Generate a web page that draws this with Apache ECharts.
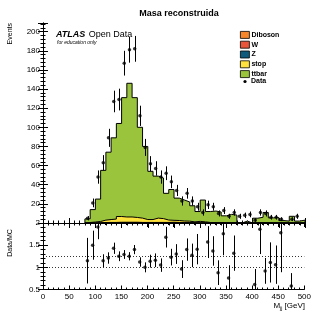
<!DOCTYPE html>
<html>
<head>
<meta charset="utf-8">
<script src="https://cdn.jsdelivr.net/npm/echarts@6/dist/echarts.min.js"></script>
<style>
  html, body { margin: 0; padding: 0; background: #fff; }
  #chart { width: 314px; height: 316px; }
</style>
</head>
<body>
<div id="chart"></div>
<script>
  // bin low edges, 10 GeV wide
  const binLo = [80, 90, 100, 110, 120, 130, 140, 150, 160, 170, 180, 190, 200, 210, 220, 230, 240, 250, 260, 270,
    280, 290, 300, 310, 320, 330, 340, 350, 360, 370, 380, 390, 400, 410, 420, 430, 440, 450, 460, 470, 480, 490]
  const binW = 10

  // MC components (events per bin)
  const diboson = [0, 0, 0.1, 0.1, 0.1, 0.1, 0.1, 0.1, 0.1, 0.1, 0.1, 0.1, 0.1, 0.1, 0.1, 0.1, 0.1, 0.1, 0.1, 0.1,
    0, 0, 0, 0, 0, 0, 0, 0, 0, 0, 0, 0, 0, 0, 0, 0, 0, 0, 0, 0, 0, 0]
  const wjets = [0, 0, 0, 0.2, 0.2, 0.2, 0.3, 0.3, 0.3, 0.3, 0.2, 0.2, 0.2, 0.2, 0.2, 0.2, 0.2, 0, 0, 0,
    0, 0, 0, 0, 0, 0, 0, 0, 0, 0, 0, 0, 0, 0, 0, 0, 0, 0, 0, 0, 0, 0]
  const zjets = [0, 0, 0, 0.2, 0.3, 0.3, 0.4, 0.4, 0.4, 0.4, 0.3, 0.3, 0.3, 0.3, 0.3, 0.3, 0.5, 0.5, 0.5, 0.3,
    0.2, 0.2, 0.2, 0, 0, 0, 0, 0, 0, 0, 0, 0, 0, 0, 0, 0, 0, 0, 0, 0, 0, 0]
  const stop = [0.5, 1, 1.5, 2.5, 3, 3.5, 6, 5.5, 5.5, 5, 4.5, 3, 3, 4.5, 4, 2.5, 2, 2, 1.5, 1.5,
    1, 1.5, 1, 0.5, 0.5, 0.5, 0.3, 0.3, 0.3, 0, 0, 0, 0.3, 0.3, 0.3, 0.2, 0.2, 0, 0, 0, 0, 0]
  const ttbar = [3.8, 13, 23.4, 52, 70.4, 84.9, 97.2, 124.7, 139.7, 125.2, 94.9, 76.4, 50.4, 43.9, 42.4, 27.9, 32.2, 23.4, 21.9, 20.1,
    16.8, 10.3, 22.8, 11.5, 12, 11, 7.2, 8.7, 8, 0, 2, 0, 4.7, 5.7, 10.7, 5.2, 5.5, 2.5, 2, 7, 2, 3]

  // observed data
  const dataCounts = [5, 21, 48, 63, 89, 127, 129, 167, 181, 182, 112, 79, 62, 57, 48, 52, 43, 34, 23, 31,
    23, 17, 11, 19, 17, 10, 13, 7, 11, 7, 8, 9, 3, 11, 10, 6, 6, 4, 0, 4, 7, 0]
  // Data/MC as drawn (null = off scale)
  const ratio = [1.15, 1.5, 1.91, 1.15, 1.21, 1.43, 1.25, 1.29, 1.25, 1.4, 1.12, 1.0, 1.14, 1.16, 1.05, 1.68, 1.23, 1.3, 0.96, 1.4,
    1.27, 1.41, null, 1.57, 1.37, 0.88, 1.76, 0.76, 1.32, null, null, null, 0.61, 1.86, 0.92, 1.11, 1.06, 1.78, null, 0.58, null, null]

  const font = 'Liberation Sans, Arial, Helvetica, sans-serif'
  const layers = [
    { name: 'Diboson', vals: diboson, color: '#f7862b' },
    { name: 'W', vals: wjets, color: '#e8553a' },
    { name: 'Z', vals: zjets, color: '#0e5a7c' },
    { name: 'stop', vals: stop, color: '#ffe23d' },
    { name: 'ttbar', vals: ttbar, color: '#9ac43c' }
  ]

  // cumulative stack, bottom to top
  let run = binLo.map(() => 0)
  layers.forEach(l => {
    run = run.map((v, i) => v + l.vals[i])
    l.cum = run.slice()
  })

  function stepData(cum) {
    let pts = [[binLo[0], 0]]
    binLo.forEach((x, i) => pts.push([x, cum[i]]))
    pts.push([binLo[binLo.length - 1] + binW, 0])
    return pts
  }

  const stackSeries = layers.slice().reverse().map(l => ({
    name: l.name,
    type: 'line',
    xAxisIndex: 0,
    yAxisIndex: 0,
    step: 'end',
    symbol: 'none',
    silent: true,
    itemStyle: { color: l.color },
    lineStyle: { color: '#000', width: 1 },
    areaStyle: { color: l.color, opacity: 1 },
    data: stepData(l.cum)
  }))

  const dataPts = []
  const dataErr = []
  const ratioPts = []
  const ratioErr = []
  binLo.forEach((x, i) => {
    const c = x + binW / 2
    const n = dataCounts[i]
    if (n > 0) {
      dataPts.push([c, n])
      dataErr.push([c, n - Math.sqrt(n), n + Math.sqrt(n)])
    }
    if (ratio[i] !== null) {
      const e = ratio[i] / Math.sqrt(n)
      ratioPts.push([c, ratio[i]])
      ratioErr.push([c, Math.max(0.5, ratio[i] - e), Math.min(2, ratio[i] + e)])
    }
  })

  function renderErr(params, api) {
    const a = api.coord([api.value(0), api.value(1)])
    const b = api.coord([api.value(0), api.value(2)])
    const x = Math.round(a[0]) + 0.5
    return {
      type: 'line',
      shape: { x1: x, y1: a[1], x2: x, y2: b[1] },
      style: { stroke: '#000', lineWidth: 1 }
    }
  }

  const axLine = { show: true, lineStyle: { color: '#000', width: 1 } }
  function xAx(grid, pos, labels, tickLen) {
    return {
      type: 'value', gridIndex: grid, position: pos, min: 0, max: 500, interval: 50,
      axisLine: axLine,
      axisTick: { show: true, inside: true, length: tickLen, lineStyle: { color: '#000' } },
      minorTick: { show: true, splitNumber: 5, length: tickLen / 2, lineStyle: { color: '#000' } },
      axisLabel: { show: labels, fontSize: 8, fontFamily: font, color: '#000', margin: 3, showMinLabel: true, showMaxLabel: true },
      splitLine: { show: false }
    }
  }
  function yAx(grid, pos, min, max, interval, labels, fmt) {
    return {
      type: 'value', gridIndex: grid, position: pos, min: min, max: max, interval: interval,
      axisLine: axLine,
      axisTick: { show: true, inside: true, length: 5, lineStyle: { color: '#000' } },
      minorTick: { show: true, splitNumber: 5, length: 2.5, lineStyle: { color: '#000' } },
      axisLabel: { show: labels, fontSize: 8, fontFamily: font, color: '#000', margin: 3, formatter: fmt,
        showMinLabel: true, showMaxLabel: true, hideOverlap: false },
      splitLine: { show: false }
    }
  }

  const legendTop = 31
  const rowH = 9.4

  const option = {
    animation: false,
    backgroundColor: '#fff',
    title: {
      text: 'Masa reconstruida',
      left: 174, top: 4, textAlign: 'center',
      textStyle: { fontSize: 9, fontWeight: 'bold', fontFamily: font, color: '#000' }
    },
    grid: [
      { left: 43, right: 9, top: 23, height: 200 },
      { left: 43, right: 9, top: 223, height: 66.5 }
    ],
    xAxis: [
      xAx(0, 'bottom', false, 5),
      xAx(0, 'top', false, 5),
      xAx(1, 'bottom', true, 4),
      xAx(1, 'top', false, 4)
    ],
    yAxis: [
      yAx(0, 'left', 0, 209, 20, true, v => (v > 0 && v % 20 === 0) ? String(v) : ''),
      yAx(0, 'right', 0, 209, 20, false),
      yAx(1, 'left', 0.5, 2, 0.5, true, v => (v < 2 ? String(Math.round(v * 10) / 10) : '')),
      yAx(1, 'right', 0.5, 2, 0.5, false)
    ],
    legend: {
      orient: 'vertical',
      left: 240, top: legendTop, padding: 0,
      itemWidth: 9, itemHeight: 7, itemGap: 2,
      selectedMode: false,
      textStyle: { fontSize: 7, fontWeight: 'bold', fontFamily: font, color: '#000', padding: [0, 0, 0, -3] },
      data: layers.map(l => ({
        name: l.name, icon: 'rect',
        itemStyle: { color: l.color, borderColor: '#000', borderWidth: 0.8 }
      }))
    },
    graphic: [
      {
        type: 'circle', shape: { cx: 245, cy: legendTop + 3.5 + 5 * rowH, r: 1.6 },
        style: { fill: '#000' }
      },
      {
        type: 'text', x: 251, y: legendTop + 3.5 + 5 * rowH,
        style: { text: 'Data', fontSize: 7, fontWeight: 'bold', fontFamily: font, fill: '#000', verticalAlign: 'middle' }
      },
      {
        // top label of the ratio axis
        type: 'text', x: 40, y: 223,
        style: { text: '2', fontSize: 8, fontFamily: font, fill: '#000', align: 'right', verticalAlign: 'middle' }
      },
      {
        type: 'text', left: 56, top: 29,
        style: { text: '{a|ATLAS} {b|Open Data}', rich: {
          a: { fontSize: 9, fontWeight: 'bold', fontStyle: 'italic', fontFamily: font, fill: '#000' },
          b: { fontSize: 9, fontFamily: font, fill: '#000' }
        } }
      },
      {
        type: 'text', left: 57, top: 40,
        style: { text: 'for education only', fontSize: 5, fontStyle: 'italic', fontFamily: font, fill: '#000' }
      },
      {
        type: 'text', x: 10, y: 23, rotation: Math.PI / 2,
        style: { text: 'Events', fontSize: 7, fontFamily: font, fill: '#000', align: 'right', verticalAlign: 'middle' }
      },
      {
        type: 'text', x: 10, y: 243, rotation: Math.PI / 2,
        style: { text: 'Data/MC', fontSize: 7, fontFamily: font, fill: '#000', align: 'center', verticalAlign: 'middle' }
      },
      {
        type: 'text', right: 9, top: 302,
        style: { text: '{m|M}{s|jj}{m| [GeV]}', rich: {
          m: { fontSize: 8, fontFamily: font, fill: '#000' },
          s: { fontSize: 5, fontFamily: font, fill: '#000', padding: [6, 0, 0, 0] }
        } }
      }
    ],
    series: stackSeries.concat([
      {
        type: 'custom', xAxisIndex: 0, yAxisIndex: 0, silent: true,
        renderItem: renderErr, encode: { x: 0, y: [1, 2] }, data: dataErr, z: 5
      },
      {
        name: 'Data', type: 'scatter', xAxisIndex: 0, yAxisIndex: 0, silent: true,
        symbol: 'circle', symbolSize: 3.5, itemStyle: { color: '#000' }, data: dataPts, z: 6
      },
      {
        type: 'custom', xAxisIndex: 2, yAxisIndex: 2, silent: true,
        renderItem: renderErr, encode: { x: 0, y: [1, 2] }, data: ratioErr, z: 5
      },
      {
        type: 'scatter', xAxisIndex: 2, yAxisIndex: 2, silent: true,
        symbol: 'circle', symbolSize: 3.5, itemStyle: { color: '#000' }, data: ratioPts, z: 6,
        markLine: {
          silent: true, symbol: 'none', label: { show: false },
          lineStyle: { color: '#000', type: [1, 2], width: 0.8 },
          data: [{ yAxis: 1 }, { yAxis: 1.25 }]
        }
      }
    ])
  }

  echarts.init(document.getElementById('chart')).setOption(option)
</script>
</body>
</html>
